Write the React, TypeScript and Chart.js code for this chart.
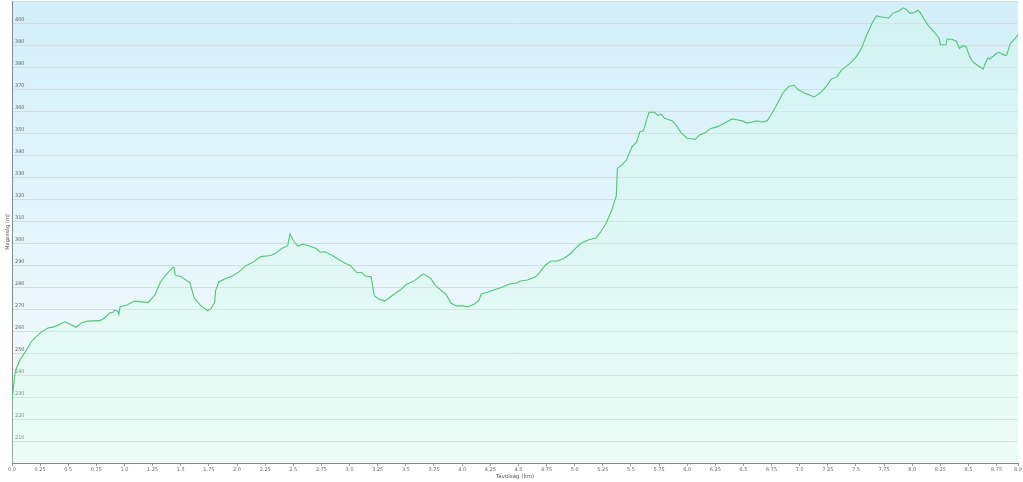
import React, { useEffect, useRef } from "react";
import { Chart, registerables } from "chart.js";

Chart.register(...registerables);

const distanceKm: number[] = [
  0.0, 0.03, 0.07, 0.13, 0.17, 0.2, 0.26, 0.32, 0.38, 0.47, 0.5, 0.57, 0.62, 0.67, 0.78, 0.82, 0.87, 0.9, 0.91, 0.94,
  0.95, 0.96, 1.02, 1.09, 1.21, 1.27, 1.32, 1.38, 1.43, 1.44, 1.45, 1.5, 1.58, 1.62, 1.68, 1.74, 1.77, 1.8, 1.81, 1.84,
  1.9, 1.96, 2.02, 2.07, 2.14, 2.21, 2.3, 2.34, 2.4, 2.45, 2.47, 2.5, 2.54, 2.58, 2.64, 2.7, 2.74, 2.78, 2.84, 2.9,
  2.96, 3.01, 3.06, 3.11, 3.14, 3.17, 3.19, 3.22, 3.26, 3.31, 3.35, 3.41, 3.45, 3.5, 3.58, 3.63, 3.66, 3.72, 3.76, 3.81,
  3.86, 3.9, 3.95, 4.0, 4.05, 4.11, 4.15, 4.17, 4.23, 4.3, 4.36, 4.42, 4.48, 4.52, 4.58, 4.65, 4.7, 4.74, 4.79, 4.85,
  4.91, 4.96, 5.01, 5.06, 5.12, 5.19, 5.23, 5.28, 5.33, 5.37, 5.38, 5.42, 5.46, 5.51, 5.55, 5.58, 5.61, 5.66, 5.71, 5.74,
  5.77, 5.8, 5.87, 5.91, 5.95, 6.0, 6.04, 6.07, 6.11, 6.16, 6.21, 6.27, 6.31, 6.35, 6.4, 6.44, 6.49, 6.53, 6.58, 6.62,
  6.66, 6.71, 6.75, 6.8, 6.85, 6.9, 6.95, 6.99, 7.04, 7.11, 7.13, 7.19, 7.24, 7.28, 7.33, 7.37, 7.42, 7.46, 7.5, 7.55,
  7.59, 7.64, 7.68, 7.73, 7.79, 7.83, 7.88, 7.92, 7.95, 7.98, 8.02, 8.05, 8.07, 8.11, 8.15, 8.2, 8.24, 8.25, 8.3, 8.31,
  8.35, 8.39, 8.42, 8.45, 8.48, 8.51, 8.54, 8.58, 8.63, 8.65, 8.67, 8.69, 8.74, 8.77, 8.82, 8.84, 8.87, 8.91, 8.94,
];

const elevationM: number[] = [
  228.5, 241.8, 246.8, 251.4, 255.0, 256.8, 259.5, 261.4, 262.0, 264.2, 263.5, 261.7, 263.8, 264.5, 264.7, 265.8, 268.3, 268.5, 269.5, 269.0,
  267.5, 271.0, 271.8, 273.6, 272.9, 276.4, 282.4, 286.2, 289.0, 289.0, 285.5, 284.7, 282.0, 274.9, 271.4, 269.2, 270.3, 272.9, 278.6, 282.4,
  283.9, 285.0, 287.0, 289.5, 291.2, 293.8, 294.3, 295.3, 297.6, 298.8, 304.1, 301.0, 298.6, 299.4, 298.6, 297.6, 295.8, 296.0, 294.5, 292.6,
  290.8, 289.7, 286.7, 286.5, 285.0, 284.7, 284.7, 276.0, 274.5, 273.6, 275.0, 277.3, 278.6, 281.0, 283.0, 285.0, 286.0, 284.0, 281.0, 278.6,
  276.4, 272.7, 271.4, 271.4, 271.0, 272.3, 274.0, 276.8, 277.7, 279.0, 280.0, 281.4, 281.8, 282.7, 283.2, 284.5, 287.3, 290.0, 291.8, 291.8,
  293.2, 295.0, 297.7, 300.0, 301.4, 302.3, 305.0, 309.0, 315.0, 321.4, 334.0, 335.5, 337.7, 343.8, 345.8, 350.6, 351.0, 359.4, 359.4, 357.9,
  358.6, 356.7, 355.5, 352.9, 349.9, 347.6, 347.4, 347.1, 349.1, 350.1, 352.1, 352.9, 354.0, 355.0, 356.4, 356.0, 355.5, 354.5, 355.0, 355.5,
  355.0, 355.5, 358.6, 363.2, 368.2, 371.0, 371.8, 369.5, 368.2, 366.8, 366.4, 368.6, 371.4, 374.5, 375.5, 378.6, 380.5, 382.3, 384.5, 388.6,
  394.0, 399.5, 403.2, 402.7, 402.3, 404.5, 405.5, 406.9, 406.0, 404.4, 404.8, 405.8, 404.8, 401.4, 398.3, 395.6, 393.0, 390.1, 390.1, 392.7,
  392.6, 391.7, 388.5, 389.7, 389.2, 384.7, 382.3, 380.8, 379.0, 381.7, 384.1, 383.6, 385.9, 386.7, 385.3, 385.5, 390.5, 392.7, 394.8,
];

const xTickValues: number[] = [
  0, 0.25, 0.5, 0.75, 1, 1.25, 1.5, 1.75, 2, 2.25, 2.5, 2.75, 3, 3.25, 3.5, 3.75, 4, 4.25, 4.5, 4.75, 5, 5.25,
  5.5, 5.75, 6, 6.25, 6.5, 6.75, 7, 7.25, 7.5, 7.75, 8, 8.25, 8.5, 8.75, 8.94,
];
const xTickLabels: string[] = [
  "0.0", "0.25", "0.5", "0.75", "1.0", "1.25", "1.5", "1.75", "2.0", "2.25", "2.5", "2.75", "3.0", "3.25", "3.5",
  "3.75", "4.0", "4.25", "4.5", "4.75", "5.0", "5.25", "5.5", "5.75", "6.0", "6.25", "6.5", "6.75", "7.0", "7.25",
  "7.5", "7.75", "8.0", "8.25", "8.5", "8.75", "8.9",
];

const yMin = 200;
const yMax = 410;
const yStep = 10;
const xTitle = "Távolság (km)";
const yTitle = "Magasság [m]";

const bgPlugin = {
  id: "plotBg",
  beforeDraw(chart: any) {
    const { ctx, chartArea } = chart;
    if (!chartArea) return;
    ctx.save();
    ctx.fillStyle = "#ffffff";
    ctx.fillRect(0, 0, chart.width, chart.height);
    const g = ctx.createLinearGradient(0, chartArea.top, 0, chartArea.bottom);
    g.addColorStop(0, "#d3effa");
    g.addColorStop(1, "#f6fcfe");
    ctx.fillStyle = g;
    ctx.fillRect(chartArea.left, chartArea.top, chartArea.right - chartArea.left, chartArea.bottom - chartArea.top);
    ctx.restore();
  },
};

export default function App() {
  const ref = useRef<HTMLCanvasElement | null>(null);
  useEffect(() => {
    document.body.style.margin = "0";
    const canvas = ref.current;
    if (!canvas) return;
    const points = distanceKm.map((d, i) => ({ x: d, y: elevationM[i] }));
    const chart = new Chart(canvas, {
      type: "line",
      data: {
        datasets: [
          {
            data: points,
            borderColor: "#52c574",
            borderWidth: 1.1,
            pointRadius: 0,
            tension: 0,
            fill: "start",
            backgroundColor: "rgba(205,255,225,0.26)",
          },
        ],
      },
      options: {
        animation: false,
        responsive: true,
        maintainAspectRatio: false,
        layout: { padding: { top: 1, right: 2, bottom: 0, left: 0 } },
        plugins: { legend: { display: false }, tooltip: { enabled: false } },
        scales: {
          x: {
            type: "linear",
            min: 0,
            max: xTickValues[xTickValues.length - 1],
            afterBuildTicks: (scale: any) => {
              scale.ticks = xTickValues.map((v) => ({ value: v }));
            },
            afterFit: (scale: any) => {
              scale.height = 19;
            },
            ticks: {
              autoSkip: false,
              maxRotation: 0,
              padding: 1,
              color: "#666",
              font: { family: "DejaVu Sans", size: 5 },
              callback: (_v: any, i: number) => xTickLabels[i],
            },
            grid: { display: true, drawOnChartArea: false, drawTicks: true, tickLength: 3, color: "#999" },
            border: { color: "#888", width: 1 },
            title: {
              display: true,
              text: xTitle,
              color: "#555",
              font: { family: "DejaVu Sans", size: 5.5 },
              padding: { top: 0, bottom: 2 },
            },
          },
          y: {
            type: "linear",
            min: yMin,
            max: yMax,
            afterFit: (scale: any) => {
              scale.width = 12;
              scale.paddingTop = 0;
              scale.paddingBottom = 0;
            },
            ticks: {
              stepSize: yStep,
              mirror: true,
              padding: 3,
              labelOffset: -3,
              color: "#666",
              font: { family: "DejaVu Sans", size: 5 },
              callback: (v: any) => (v === yMin || v === yMax ? "" : String(v)),
            },
            grid: { color: "#d4dde2", drawTicks: false },
            border: { color: "#888", width: 1 },
            title: {
              display: true,
              text: yTitle,
              color: "#555",
              font: { family: "DejaVu Sans", size: 5 },
              padding: { top: 5, bottom: 0 },
            },
          },
        },
      },
      plugins: [bgPlugin],
    } as any);
    return () => chart.destroy();
  }, []);
  return (
    <div style={{ position: "fixed", left: 0, top: 0, width: 1023, height: 482 }}>
      <canvas ref={ref} />
    </div>
  );
}
